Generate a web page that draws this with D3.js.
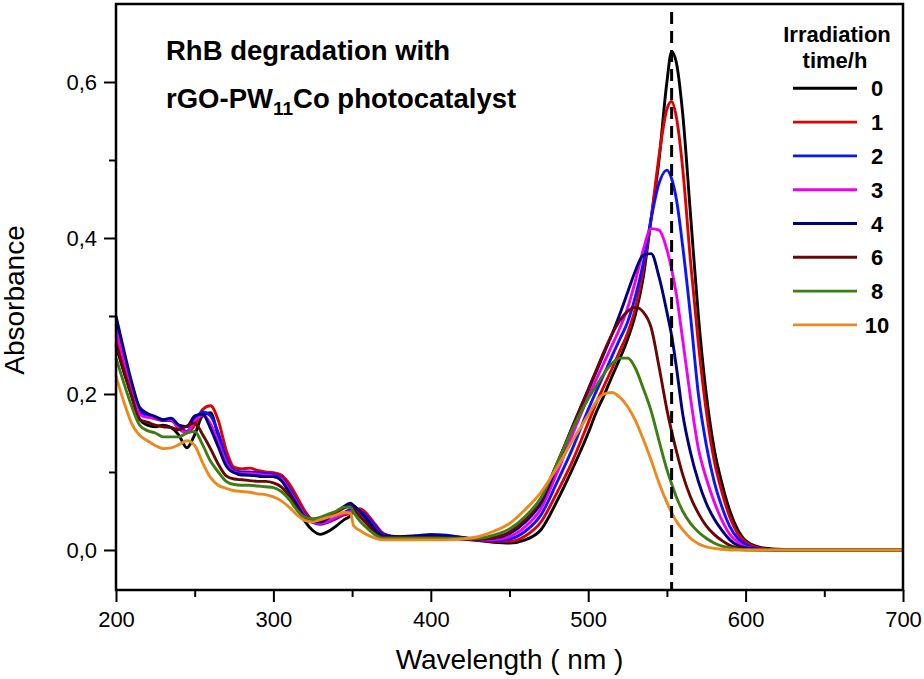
<!DOCTYPE html>
<html>
<head>
<meta charset="utf-8">
<script src="https://cdn.jsdelivr.net/npm/d3@7"></script>
<style>
  body { margin: 0; background: #fff; }
  svg { font-family: "Liberation Sans", Arial, sans-serif; }
</style>
</head>
<body>
<div id="chart"></div>
<script>
// wavelength grid (nm) shared by every spectrum
var wavelength = [200,205,210,215,220,225,230,235,240,245,
  250,255,260,265,270,275,280,285,290,295,
  300,305,310,315,320,325,330,335,340,345,
  349,351,355,360,365,370,380,390,400,410,
  420,430,440,450,460,470,480,490,500,505,
  510,515,520,525,530,535,540,545,550,553,
  556,560,565,570,575,580,585,590,595,600,
  610,620,640,660,680,700];

// irradiation time labels (h)
var times = ["0", "1", "2", "3", "4", "6", "8", "10"];

// absorbance, one array per irradiation time
var abs0h = [0.262,0.228,0.197,0.168,0.160,0.158,0.160,0.157,0.147,0.131,
  0.148,0.172,0.176,0.146,0.116,0.100,0.096,0.096,0.095,0.094,
  0.094,0.090,0.075,0.055,0.037,0.025,0.020,0.024,0.031,0.039,
  0.044,0.056,0.049,0.036,0.024,0.017,0.016,0.016,0.017,0.016,
  0.014,0.012,0.010,0.009,0.013,0.026,0.062,0.104,0.150,0.176,
  0.198,0.222,0.245,0.270,0.302,0.350,0.425,0.500,0.600,0.639,
  0.625,0.560,0.430,0.300,0.200,0.130,0.085,0.050,0.026,0.012,
  0.003,0.001,0,0,0,0];
var abs1h = [0.275,0.238,0.205,0.177,0.172,0.168,0.166,0.166,0.156,0.150,
  0.160,0.180,0.185,0.166,0.128,0.106,0.104,0.105,0.102,0.100,
  0.099,0.096,0.085,0.068,0.050,0.038,0.034,0.036,0.040,0.045,
  0.047,0.050,0.053,0.045,0.032,0.021,0.016,0.017,0.017,0.017,
  0.015,0.013,0.011,0.011,0.018,0.036,0.073,0.114,0.163,0.188,
  0.210,0.232,0.255,0.278,0.310,0.360,0.425,0.505,0.565,0.575,
  0.555,0.490,0.370,0.265,0.178,0.115,0.074,0.042,0.021,0.010,
  0.002,0,0,0,0,0];
var abs2h = [0.290,0.250,0.212,0.180,0.172,0.169,0.166,0.166,0.158,0.152,
  0.167,0.177,0.172,0.150,0.118,0.102,0.100,0.100,0.099,0.098,
  0.097,0.093,0.079,0.062,0.046,0.036,0.033,0.036,0.041,0.048,
  0.052,0.053,0.050,0.042,0.030,0.020,0.017,0.018,0.020,0.019,
  0.016,0.013,0.012,0.014,0.024,0.045,0.086,0.130,0.180,0.203,
  0.225,0.248,0.270,0.292,0.325,0.368,0.425,0.470,0.487,0.476,
  0.450,0.390,0.300,0.200,0.135,0.088,0.055,0.030,0.015,0.007,
  0.001,0,0,0,0,0];
var abs3h = [0.282,0.244,0.207,0.174,0.170,0.169,0.167,0.167,0.155,0.151,
  0.165,0.173,0.162,0.138,0.112,0.100,0.098,0.098,0.097,0.096,
  0.095,0.091,0.076,0.060,0.044,0.035,0.034,0.037,0.042,0.047,
  0.049,0.049,0.046,0.038,0.027,0.018,0.016,0.017,0.018,0.017,
  0.015,0.013,0.013,0.017,0.030,0.053,0.098,0.148,0.196,0.218,
  0.240,0.262,0.284,0.310,0.345,0.385,0.412,0.410,0.385,0.360,
  0.328,0.270,0.195,0.130,0.092,0.062,0.038,0.020,0.010,0.004,
  0.001,0,0,0,0,0];
var abs4h = [0.300,0.256,0.215,0.183,0.175,0.171,0.167,0.169,0.160,0.158,
  0.172,0.174,0.156,0.132,0.108,0.099,0.097,0.096,0.095,0.094,
  0.094,0.089,0.074,0.058,0.042,0.036,0.036,0.041,0.048,0.056,
  0.060,0.057,0.049,0.038,0.026,0.018,0.017,0.018,0.019,0.018,
  0.016,0.014,0.015,0.021,0.036,0.060,0.107,0.158,0.205,0.228,
  0.252,0.276,0.302,0.330,0.358,0.378,0.380,0.350,0.305,0.275,
  0.235,0.175,0.125,0.088,0.060,0.040,0.025,0.013,0.006,0.003,
  0.001,0,0,0,0,0];
var abs6h = [0.264,0.230,0.197,0.167,0.164,0.160,0.158,0.157,0.154,0.159,
  0.163,0.148,0.130,0.110,0.095,0.091,0.090,0.089,0.088,0.088,
  0.086,0.081,0.069,0.053,0.042,0.037,0.038,0.043,0.048,0.054,
  0.056,0.052,0.043,0.032,0.021,0.016,0.016,0.016,0.016,0.015,
  0.014,0.014,0.016,0.023,0.039,0.064,0.110,0.158,0.206,0.230,
  0.254,0.276,0.294,0.306,0.311,0.305,0.285,0.235,0.180,0.152,
  0.127,0.097,0.068,0.047,0.031,0.020,0.012,0.006,0.003,0.001,
  0,0,0,0,0,0];
var abs8h = [0.246,0.214,0.184,0.160,0.153,0.150,0.145,0.145,0.145,0.150,
  0.152,0.135,0.114,0.100,0.088,0.084,0.083,0.083,0.082,0.081,
  0.080,0.075,0.065,0.051,0.042,0.040,0.042,0.046,0.050,0.055,
  0.055,0.048,0.037,0.027,0.019,0.015,0.015,0.015,0.015,0.015,
  0.015,0.015,0.019,0.027,0.043,0.067,0.110,0.155,0.194,0.210,
  0.226,0.239,0.246,0.246,0.233,0.207,0.178,0.140,0.103,0.085,
  0.068,0.050,0.034,0.023,0.015,0.009,0.005,0.003,0.001,0,
  0,0,0,0,0,0];
var abs10h = [0.223,0.190,0.162,0.147,0.140,0.134,0.130,0.131,0.135,0.140,
  0.134,0.112,0.093,0.083,0.079,0.076,0.075,0.074,0.072,0.071,
  0.068,0.063,0.055,0.045,0.038,0.036,0.039,0.042,0.045,0.048,
  0.047,0.031,0.025,0.019,0.015,0.013,0.013,0.013,0.013,0.013,
  0.014,0.017,0.024,0.034,0.052,0.074,0.105,0.140,0.173,0.190,
  0.200,0.202,0.196,0.184,0.166,0.142,0.115,0.086,0.061,0.048,
  0.037,0.026,0.015,0.008,0.004,0.002,0.001,0,0,0,
  0,0,0,0,0,0];

var seriesValues = [abs0h, abs1h, abs2h, abs3h, abs4h, abs6h, abs8h, abs10h];
var colors = ["#000000", "#e00000", "#0a14ff", "#f000f0", "#00007e", "#6a0606", "#3d7d14", "#ea8a1e"];

// axis ticks
var xTicks = [200, 300, 400, 500, 600, 700];
var xMinorTicks = [250, 350, 450, 550, 650];
var yTicks = [0, 0.2, 0.4, 0.6];
var yMinorTicks = [0.1, 0.3, 0.5];

// position of the dashed reference line (nm)
var peakLine = 553;

var svgWidth = 924;
var svgHeight = 679;
var margin = { top: 4, right: 21, bottom: 89, left: 116 };
var width = svgWidth - margin.left - margin.right;
var height = svgHeight - margin.top - margin.bottom;

var svg = d3.select("#chart")
  .append("svg")
  .attr("width", svgWidth)
  .attr("height", svgHeight);

var chartGroup = svg.append("g")
  .attr("transform", `translate(${margin.left}, ${margin.top})`);

var xScale = d3.scaleLinear().domain([200, 700]).range([0, width]);
var yScale = d3.scaleLinear().domain([-0.0513, 0.7]).range([height, 0]);

var commaFormat = function (d) { return d3.format(".1f")(d).replace(".", ","); };

// minor ticks first
chartGroup.append("g")
  .attr("transform", `translate(0, ${height})`)
  .call(d3.axisBottom(xScale).tickValues(xMinorTicks).tickSize(7).tickFormat(""))
  .call(g => g.select(".domain").remove());
chartGroup.append("g")
  .call(d3.axisLeft(yScale).tickValues(yMinorTicks).tickSize(7).tickFormat(""))
  .call(g => g.select(".domain").remove());

// major ticks with labels
var xAxis = chartGroup.append("g")
  .attr("transform", `translate(0, ${height})`)
  .call(d3.axisBottom(xScale).tickValues(xTicks).tickSize(12).tickPadding(9));
xAxis.select(".domain").remove();

var yAxis = chartGroup.append("g")
  .call(d3.axisLeft(yScale).tickValues(yTicks).tickSize(12).tickPadding(7).tickFormat(commaFormat));
yAxis.select(".domain").remove();

chartGroup.selectAll(".tick line").attr("stroke", "#000").attr("stroke-width", 2);
chartGroup.selectAll(".tick text")
  .attr("fill", "#000")
  .style("font-size", "22px")
  .style("font-family", "'Liberation Sans', Arial, sans-serif");

// spectra
var line = d3.line()
  .x((d, i) => xScale(wavelength[i]))
  .y(d => yScale(d))
  .curve(d3.curveMonotoneX);

chartGroup.selectAll(".spectrum")
  .data(seriesValues)
  .enter()
  .append("path")
  .attr("class", "spectrum")
  .attr("d", d => line(d))
  .attr("fill", "none")
  .attr("stroke", (d, i) => colors[i])
  .attr("stroke-width", 2.9)
  .attr("stroke-linejoin", "round");

// dashed reference line at the initial maximum
chartGroup.append("line")
  .attr("x1", xScale(peakLine))
  .attr("x2", xScale(peakLine))
  .attr("y1", 8)
  .attr("y2", height)
  .attr("stroke", "#000")
  .attr("stroke-width", 3)
  .attr("stroke-dasharray", "12,7");

// frame
chartGroup.append("rect")
  .attr("x", 0)
  .attr("y", 0)
  .attr("width", width)
  .attr("height", height)
  .attr("fill", "none")
  .attr("stroke", "#000")
  .attr("stroke-width", 2.5);

// axis titles
chartGroup.append("text")
  .attr("x", width / 2)
  .attr("y", height + 79)
  .attr("text-anchor", "middle")
  .style("font-size", "28px")
  .text("Wavelength ( nm )");

chartGroup.append("text")
  .attr("transform", `translate(${24 - margin.left}, ${300 - margin.top}) rotate(-90)`)
  .attr("text-anchor", "middle")
  .style("font-size", "28px")
  .text("Absorbance");

// title inside the plot
var title = svg.append("g").style("font-weight", "bold").style("font-size", "27.5px");
title.append("text").attr("x", 166).attr("y", 60).text("RhB degradation with");
var title2 = title.append("text").attr("x", 166).attr("y", 108);
title2.append("tspan").text("rGO-PW");
title2.append("tspan").attr("dy", 7).style("font-size", "19px").text("11");
title2.append("tspan").attr("dy", -7).text("Co photocatalyst");

// legend
var legend = svg.append("g").style("font-weight", "bold").style("font-size", "22px");
legend.append("text").attr("x", 837).attr("y", 42).attr("text-anchor", "middle").text("Irradiation");
legend.append("text").attr("x", 835).attr("y", 68).attr("text-anchor", "middle").text("time/h");

var entries = legend.selectAll(".entry")
  .data(times)
  .enter()
  .append("g")
  .attr("class", "entry")
  .attr("transform", (d, i) => `translate(0, ${88.3 + i * 33.8})`);

entries.append("line")
  .attr("x1", 793)
  .attr("x2", 857)
  .attr("stroke", (d, i) => colors[i])
  .attr("stroke-width", 2.9);

entries.append("text")
  .attr("x", 877)
  .attr("y", 8)
  .attr("text-anchor", "middle")
  .text(d => d);
</script>
</body>
</html>
